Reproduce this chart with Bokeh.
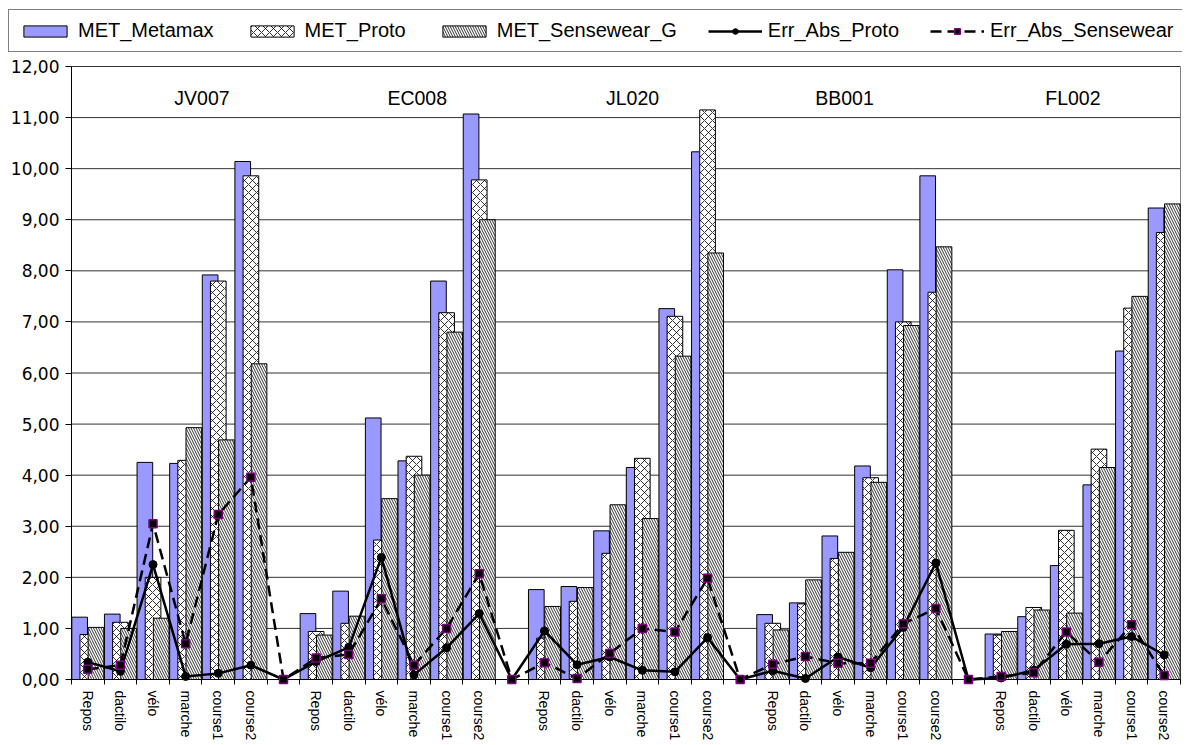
import math
from bokeh.plotting import figure
from bokeh.models import ColumnDataSource, FixedTicker, Range1d, Legend, LegendItem
from bokeh.transform import dodge
from bokeh.embed import file_html
from bokeh.resources import INLINE
from bokeh.core.properties import value

nan = float("nan")

# ---------------- data ----------------
subjects = ["JV007", "EC008", "JL020", "BB001", "FL002"]
activities = ["Repos", "dactilo", "vélo", "marche", "course1", "course2"]

met_metamax = [1.22, 1.28, 4.25, 4.23, 7.92, 10.14, nan,
               1.29, 1.73, 5.12, 4.28, 7.80, 11.07, nan,
               1.76, 1.82, 2.91, 4.15, 7.26, 10.33, nan,
               1.27, 1.50, 2.81, 4.18, 8.02, 9.86, nan,
               0.89, 1.23, 2.23, 3.81, 6.43, 9.23]
met_proto = [0.88, 1.12, 2.00, 4.29, 7.80, 9.86, nan,
             0.94, 1.10, 2.73, 4.37, 7.18, 9.78, nan,
             0.81, 1.53, 2.47, 4.33, 7.11, 11.15, nan,
             1.10, 1.48, 2.37, 3.95, 7.00, 7.58, nan,
             0.87, 1.41, 2.92, 4.51, 7.27, 8.75]
met_sensewear = [1.02, 1.00, 1.20, 4.93, 4.69, 6.18, nan,
                 0.87, 1.24, 3.54, 4.00, 6.80, 9.00, nan,
                 1.43, 1.80, 3.42, 3.15, 6.33, 8.35, nan,
                 0.97, 1.95, 2.49, 3.86, 6.93, 8.47, nan,
                 0.94, 1.36, 1.30, 4.15, 7.50, 9.31]
err_abs_proto = [0.34, 0.16, 2.25, 0.06, 0.12, 0.28, 0.0,
                 0.35, 0.63, 2.39, 0.09, 0.62, 1.29, 0.0,
                 0.95, 0.29, 0.44, 0.18, 0.15, 0.82, 0.0,
                 0.17, 0.02, 0.44, 0.23, 1.02, 2.28, 0.0,
                 0.03, 0.18, 0.69, 0.70, 0.84, 0.48]
err_abs_sensewear = [0.20, 0.28, 3.05, 0.70, 3.23, 3.96, 0.0,
                     0.42, 0.49, 1.58, 0.28, 1.00, 2.07, 0.0,
                     0.33, 0.02, 0.51, 1.00, 0.93, 1.98, 0.0,
                     0.30, 0.45, 0.32, 0.32, 1.09, 1.39, 0.0,
                     0.06, 0.13, 0.93, 0.34, 1.07, 0.08]
y_tick_labels = ["0,00", "1,00", "2,00", "3,00", "4,00", "5,00", "6,00",
                 "7,00", "8,00", "9,00", "10,00", "11,00", "12,00"]
legend_labels = ["MET_Metamax", "MET_Proto", "MET_Sensewear_G",
                 "Err_Abs_Proto", "Err_Abs_Sensewear"]

# categories: 6 activities per subject, separated by an empty category
categories = []
for k, s in enumerate(subjects):
    categories += activities
    if k < len(subjects) - 1:
        categories.append("")

# ---------------- layout / style ----------------
subject_label_x = [4.0, 10.6, 17.2, 23.7, 30.7]
subject_label_y = 11.39
BLUE = "#9999FF"
FONT = "Liberation Sans"
Y_MAX = 12

# pixel geometry: the frame holds the legend strip, the plot area and the
# category labels; axes are pinned to the plot area's edges
FRAME_W, FRAME_H = 1174, 734
AREA_LEFT, AREA_RIGHT = 63, 2      # plot area inset inside the frame (px)
AREA_TOP = 57                      # plot area top below frame top (px)
AREA_H = 613                       # plot area height (px)

n = len(categories)
px_per_x = (FRAME_W - AREA_LEFT - AREA_RIGHT) / n
px_per_y = AREA_H / Y_MAX
x_start = -AREA_LEFT / px_per_x
x_end = n + AREA_RIGHT / px_per_x
y_end = Y_MAX + AREA_TOP / px_per_y
y_start = -(FRAME_H - AREA_TOP - AREA_H) / px_per_y

xc = [i + 0.5 for i in range(n)]
src = ColumnDataSource(dict(x=xc, metamax=met_metamax, proto=met_proto,
                            sense=met_sensewear, ep=err_abs_proto,
                            es=err_abs_sensewear))

p = figure(frame_width=FRAME_W, frame_height=FRAME_H, output_backend="svg",
           toolbar_location=None,
           x_range=Range1d(x_start, x_end), y_range=Range1d(y_start, y_end),
           min_border_left=8, min_border_right=2, min_border_top=9,
           min_border_bottom=0)
p.background_fill_color = "white"
p.border_fill_color = "white"
p.outline_line_color = None
p.xgrid.visible = False
p.ygrid.visible = False

yticks = list(range(len(y_tick_labels)))

# horizontal gridlines of the plot area
p.segment(x0=[0] * (len(yticks) - 1), x1=[n] * (len(yticks) - 1),
          y0=yticks[1:], y1=yticks[1:], line_color="#333333", line_width=1)
# right border of the plot area
p.segment(x0=[n], x1=[n], y0=[0], y1=[Y_MAX], line_color="#808080", line_width=1)

bw = 0.48
r_meta = p.vbar(x=dodge("x", -0.25, range=p.x_range), top="metamax", width=bw, source=src,
                fill_color=BLUE, line_color="black", line_width=1)
r_proto = p.vbar(x=dodge("x", 0.0, range=p.x_range), top="proto", width=bw, source=src,
                 fill_color="white", line_color="black", line_width=1,
                 hatch_pattern="diagonal_cross", hatch_color="black", hatch_scale=8,
                 hatch_weight=0.8)
r_sense = p.vbar(x=dodge("x", 0.25, range=p.x_range), top="sense", width=bw, source=src,
                 fill_color="white", line_color="black", line_width=1,
                 hatch_pattern="left_diagonal_line", hatch_color="black", hatch_scale=5,
                 hatch_weight=0.8)

# axis lines of the plot area
p.segment(x0=[0, 0], x1=[0, n], y0=[0, 0], y1=[Y_MAX, 0], line_color="black", line_width=1)

r_ep_l = p.line("x", "ep", source=src, line_color="black", line_width=2.5)
r_ep_m = p.scatter("x", "ep", source=src, marker="circle", size=8,
                   fill_color="black", line_color="black")
r_es_l = p.line("x", "es", source=src, line_color="black", line_width=2.5,
                line_dash="11 6")
r_es_m = p.scatter("x", "es", source=src, marker="square", size=8,
                   fill_color="black", line_color="#800080", line_width=1.5)

p.text(x=subject_label_x, y=[subject_label_y] * len(subjects), text=subjects,
       text_align="center", text_baseline="middle", text_color="black",
       text_font=value(FONT), text_font_size="19.5px")

# y axis, pinned to the plot area's left edge
p.yaxis.axis_label = None
p.yaxis.fixed_location = 0
p.yaxis.ticker = FixedTicker(ticks=yticks)
p.yaxis.major_label_overrides = {t: y_tick_labels[t] for t in yticks}
p.yaxis.major_label_text_font = "DejaVu Sans"
p.yaxis.major_label_text_font_size = "17px"
p.yaxis.major_label_text_color = "black"
p.yaxis.major_tick_in = 0
p.yaxis.major_tick_out = 6
p.yaxis.major_tick_line_color = "black"
p.yaxis.minor_tick_line_color = None
p.yaxis.axis_line_color = None
p.yaxis.major_label_standoff = 6

# x axis, pinned to the plot area's bottom edge (value 0)
p.xaxis.axis_label = None
p.xaxis.fixed_location = 0
label_ticks = [xc[i] for i in range(n) if categories[i]]
p.xaxis.ticker = FixedTicker(ticks=label_ticks, minor_ticks=list(range(n + 1)))
p.xaxis.major_label_overrides = {xc[i]: categories[i] for i in range(n) if categories[i]}
p.xaxis.major_label_orientation = "vertical"
p.xaxis.major_tick_line_color = None
p.xaxis.major_tick_in = 0
p.xaxis.major_tick_out = 0
p.xaxis.minor_tick_in = 0
p.xaxis.minor_tick_out = 5
p.xaxis.minor_tick_line_color = "black"
p.xaxis.axis_line_color = None
p.xaxis.major_label_text_font = FONT
p.xaxis.major_label_text_font_size = "14px"
p.xaxis.major_label_text_color = "black"
p.xaxis.major_label_standoff = 6

# ---------------- legend (boxed strip above the plot area) ----------------
legend = Legend(items=[
    LegendItem(label=legend_labels[0], renderers=[r_meta]),
    LegendItem(label=legend_labels[1], renderers=[r_proto]),
    LegendItem(label=legend_labels[2], renderers=[r_sense]),
    LegendItem(label=legend_labels[3], renderers=[r_ep_l, r_ep_m]),
    LegendItem(label=legend_labels[4], renderers=[r_es_l, r_es_m]),
], orientation="horizontal", location="top_left", padding=9, margin=0,
    spacing=31, label_standoff=6, glyph_width=54, glyph_height=14, label_height=22,
    label_text_font=FONT, label_text_font_size="20px", label_text_color="black",
    border_line_color="black", border_line_width=1, background_fill_color="white",
    background_fill_alpha=1)
p.add_layout(legend)

open("out.html", "w").write(file_html(p, INLINE))
